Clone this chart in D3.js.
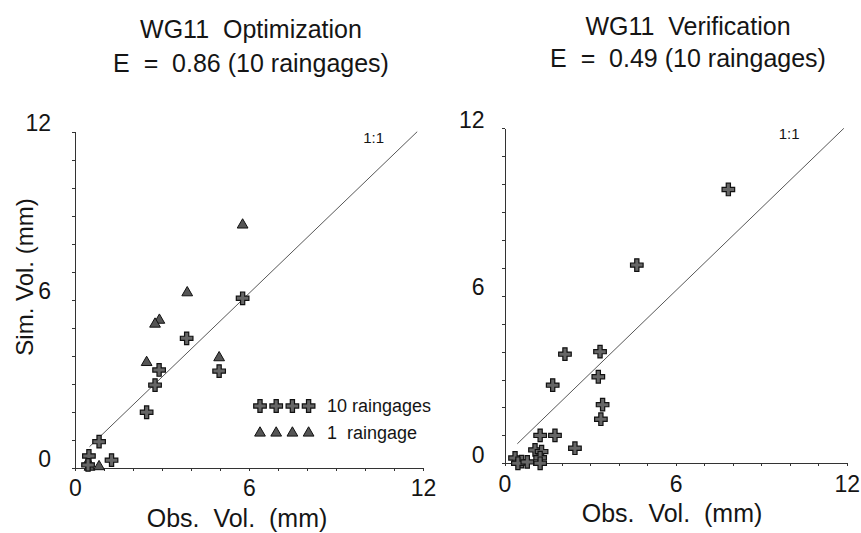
<!DOCTYPE html>
<html>
<head>
<meta charset="utf-8">
<script src="https://cdn.jsdelivr.net/npm/d3@7"></script>
<style>
  body { margin: 0; background: #fff; }
  svg text { font-family: "Liberation Sans", Arial, Helvetica, sans-serif; fill: #151515; white-space: pre; }
  .axis path, .axis line { stroke: #333; stroke-width: 1; shape-rendering: crispEdges; }
  .axis text { font-size: 23px; fill: #151515; }
</style>
</head>
<body>
<svg width="861" height="533"></svg>
<script>
// **** values ****
const tickLabels = [0, 6, 12];
const minorTicks = d3.range(0, 13);

// Optimization panel: [observed, simulated] in mm
const optTenGages = [
    [5.78, 6.05], [3.85, 4.62], [2.90, 3.49], [2.76, 2.95], [2.47, 1.98],
    [4.97, 3.45], [0.83, 0.93], [1.26, 0.27], [0.48, 0.42], [0.45, 0.10]
];
const optOneGage = [
    [5.78, 8.67], [3.87, 6.25], [2.91, 5.27], [2.76, 5.13], [2.47, 3.76],
    [4.97, 3.93], [0.45, 0.20], [0.50, 0.02], [0.83, 0.04]
];

// Verification panel: 10 raingages only
const verTenGages = [
    [7.85, 9.81], [4.64, 7.10], [2.12, 3.91], [3.35, 4.00], [1.69, 2.80],
    [3.29, 3.10], [3.44, 2.10], [3.38, 1.58], [1.77, 1.00], [1.25, 1.00],
    [2.47, 0.54], [1.07, 0.48], [1.30, 0.42], [1.25, 0.20], [1.25, 0.00],
    [0.37, 0.19], [0.60, 0.06], [0.47, 0.00], [0.80, 0.05]
];

// 1:1 reference lines as drawn in the figure
const optOneToOne = [[0.5, 0.75], [11.8, 12]];
const verOneToOne = [[0.45, 0.7], [11.9, 12]];

const titles = [
    ['WG11  Optimization', 'E  =  0.86 (10 raingages)'],
    ['WG11  Verification', 'E  =  0.49 (10 raingages)']
];
const legendLabels = ['10 raingages', '1  raingage'];

const svg = d3.select('svg');

// panel boxes (pixel layout of each plot area)
const panels = [
    { l: 75, r: 423, t: 131.7, b: 467.7, titleX: 251, titleY: [38, 72], xTitleX: 237, yPad: 24, oneX: 10.3 },
    { l: 504.5, r: 846.7, t: 128.3, b: 463.3, titleX: 688, titleY: [35, 67], xTitleX: 672, yPad: 20, oneX: 9.98 }
];

const cross = d3.symbol().type(d3.symbolCross).size(88);
const triangle = d3.symbol().type(d3.symbolTriangle).size(50);

function drawPanel(p, i, tenGages, oneGage, oneToOne) {
    const x = d3.scaleLinear().domain([0, 12]).range([p.l, p.r]);
    const y = d3.scaleLinear().domain([0, 12]).range([p.b, p.t]);

    const g = svg.append('g').attr('class', 'panel');

    // titles
    g.selectAll('.title')
        .data(titles[i])
        .enter()
        .append('text')
        .attr('class', 'title')
        .attr('x', p.titleX)
        .attr('y', (d, j) => p.titleY[j])
        .attr('text-anchor', 'middle')
        .attr('font-size', 25)
        .text(d => d);

    // minor tick marks
    g.append('g')
        .attr('class', 'axis')
        .attr('transform', `translate(0, ${p.b})`)
        .call(d3.axisBottom(x).tickValues(minorTicks).tickSize(3).tickSizeOuter(0).tickFormat(''));
    g.append('g')
        .attr('class', 'axis')
        .attr('transform', `translate(${p.l}, 0)`)
        .call(d3.axisLeft(y).tickValues(minorTicks).tickSize(3).tickSizeOuter(0).tickFormat(''));

    // numbered labels
    const xLab = g.append('g')
        .attr('class', 'axis')
        .attr('transform', `translate(0, ${p.b})`)
        .call(d3.axisBottom(x).tickValues(tickLabels).tickSize(0).tickPadding(12));
    xLab.select('.domain').remove();

    const yLab = g.append('g')
        .attr('class', 'axis')
        .attr('transform', `translate(${p.l}, 0)`)
        .call(d3.axisLeft(y).tickValues(tickLabels).tickSize(0).tickPadding(p.yPad));
    yLab.select('.domain').remove();
    yLab.selectAll('text').attr('dy', '-0.05em');

    // axis titles
    g.append('text')
        .attr('x', p.xTitleX)
        .attr('y', p.b + 59)
        .attr('text-anchor', 'middle')
        .attr('font-size', 25)
        .text('Obs.  Vol.  (mm)');

    if (i === 0) {
        g.append('text')
            .attr('transform', 'rotate(-90)')
            .attr('x', -277)
            .attr('y', 33)
            .attr('text-anchor', 'middle')
            .attr('font-size', 24)
            .text('Sim. Vol. (mm)');
    }

    // 1:1 line
    g.append('path')
        .datum(oneToOne)
        .attr('d', d3.line().x(d => x(d[0])).y(d => y(d[1])))
        .attr('fill', 'none')
        .attr('stroke', '#444')
        .attr('stroke-width', 0.9);

    g.append('text')
        .attr('x', x(p.oneX))
        .attr('y', y(11.6))
        .attr('text-anchor', 'middle')
        .attr('font-size', 15)
        .text('1:1');

    // points
    g.selectAll('.tri')
        .data(oneGage)
        .enter()
        .append('path')
        .attr('class', 'tri')
        .attr('d', triangle)
        .attr('transform', d => `translate(${x(d[0])}, ${y(d[1])})`)
        .attr('fill', '#555')
        .attr('stroke', '#111')
        .attr('stroke-width', 1);

    g.selectAll('.cross')
        .data(tenGages)
        .enter()
        .append('path')
        .attr('class', 'cross')
        .attr('d', cross)
        .attr('transform', d => `translate(${x(d[0])}, ${y(d[1])})`)
        .attr('fill', '#666')
        .attr('stroke', '#111')
        .attr('stroke-width', 1.2);
}

drawPanel(panels[0], 0, optTenGages, optOneGage, optOneToOne);
drawPanel(panels[1], 1, verTenGages, [], verOneToOne);

// legend in the optimization panel
const legend = svg.append('g')
    .attr('class', 'legend')
    .attr('transform', 'translate(260, 406)');

const legendX = d3.range(4).map(k => k * 16.2);

legend.selectAll('.lg-cross')
    .data(legendX)
    .enter()
    .append('path')
    .attr('d', cross)
    .attr('transform', d => `translate(${d}, 0)`)
    .attr('fill', '#666')
    .attr('stroke', '#111')
    .attr('stroke-width', 1.2);

legend.selectAll('.lg-tri')
    .data(legendX)
    .enter()
    .append('path')
    .attr('d', triangle)
    .attr('transform', d => `translate(${d}, 27)`)
    .attr('fill', '#555')
    .attr('stroke', '#111')
    .attr('stroke-width', 1);

legend.selectAll('.lg-text')
    .data(legendLabels)
    .enter()
    .append('text')
    .attr('x', 67)
    .attr('y', (d, k) => 6 + k * 27)
    .attr('font-size', 18)
    .text(d => d);
</script>
</body>
</html>
